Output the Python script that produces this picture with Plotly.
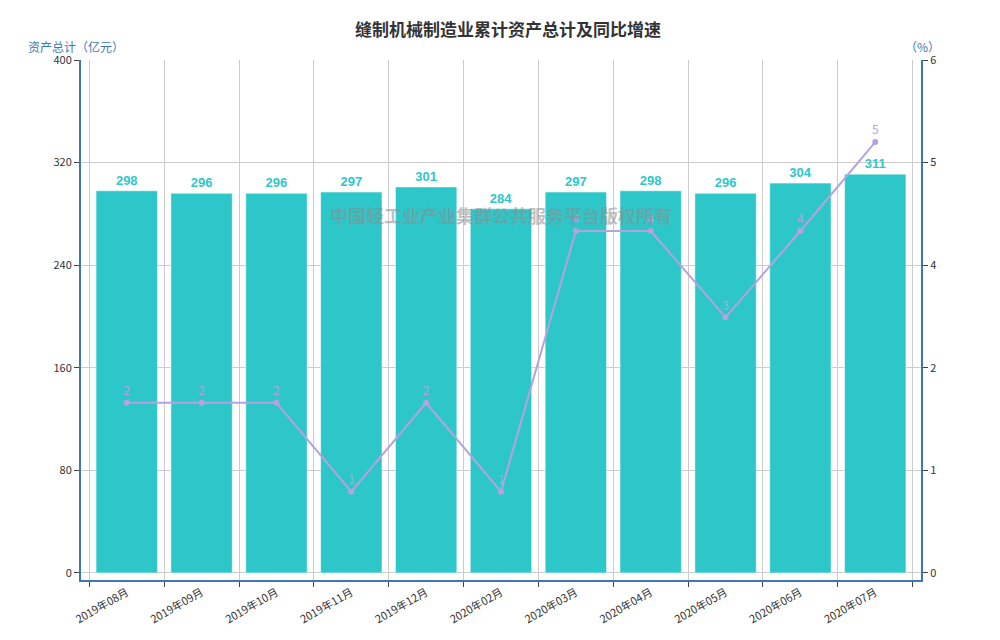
"""Sewing machinery industry: cumulative total assets and YoY growth."""

import plotly.graph_objects as go


def main():
    months = ["2019年08月", "2019年09月", "2019年10月", "2019年11月", "2019年12月", "2020年02月",
              "2020年03月", "2020年04月", "2020年05月", "2020年06月", "2020年07月"]
    assets = [298, 296, 296, 297, 301, 284, 297, 298, 296, 304, 311]  # 亿元
    growth = [1.99, 1.99, 1.99, 0.95, 1.99, 0.95, 4.0, 4.0, 2.99, 4.0, 5.04]  # %

    fig = go.Figure()
    fig.add_trace(go.Bar(x=months, y=assets, marker_color="#2ec7c9", width=0.82,
                         text=["<b>%d</b>" % v for v in assets], textposition="outside",
                         textfont=dict(color="#2ec7c9", size=13, family="Liberation Sans"),
                         cliponaxis=False, name="资产总计"))
    fig.add_trace(go.Scatter(x=months, y=growth, yaxis="y2", mode="lines+markers+text",
                             line=dict(color="#b6a2de", width=2), marker=dict(size=6, color="#b6a2de"),
                             text=[str(round(v)) for v in growth], textposition="top center",
                             textfont=dict(color="#b6a2de", size=12), name="同比增速"))
    fig.add_annotation(text="<b>中国轻工业产业集群公共服务平台版权所有</b>", x=0.5, y=0.73, xref="paper",
                       yref="paper", showarrow=False, font=dict(size=18, color="rgba(140,140,140,0.55)"))
    fig.update_layout(
        template="plotly_white", width=1000, height=640, showlegend=False,
        margin=dict(l=73, r=87, t=52, b=68), bargap=0.18,
        title=dict(text="<b>缝制机械制造业累计资产总计及同比增速</b>", x=0.5, y=0.975,
                   font=dict(size=17, color="#333")),
        font=dict(family="Noto Sans CJK SC", size=12, color="#333"),
        xaxis=dict(showgrid=True, gridcolor="#ccc", tickangle=-30, showline=True, linecolor="#3b78b4",
                   linewidth=2, ticks="outside", tickson="boundaries", tickfont=dict(size=11)),
        yaxis=dict(range=[-5.5, 400], tickvals=[0, 80, 160, 240, 320, 400], gridcolor="#ccc",
                   showline=True, linecolor="#3b78b4", linewidth=2, zeroline=False, ticks="outside",
                   tickfont=dict(size=11)),
        yaxis2=dict(range=[-0.083, 6], overlaying="y", side="right", tickvals=[0, 1.2, 2.4, 3.6, 4.8, 6],
                    ticktext=["0", "1", "2", "4", "5", "6"], showgrid=False, showline=True,
                    linecolor="#3b78b4", linewidth=2, zeroline=False, ticks="outside", tickfont=dict(size=11)),
    )
    fig.add_annotation(text="资产总计（亿元）", x=-0.065, y=1.005, xref="paper", yref="paper", xanchor="left",
                       yanchor="bottom", showarrow=False, font=dict(size=12, color="#3b78b4"))
    fig.add_annotation(text="（%）", x=1.025, y=1.005, xref="paper", yref="paper", xanchor="right",
                       yanchor="bottom", showarrow=False, font=dict(size=12, color="#3b78b4"))
    fig.write_html("out.html")


if __name__ == "__main__":
    main()
